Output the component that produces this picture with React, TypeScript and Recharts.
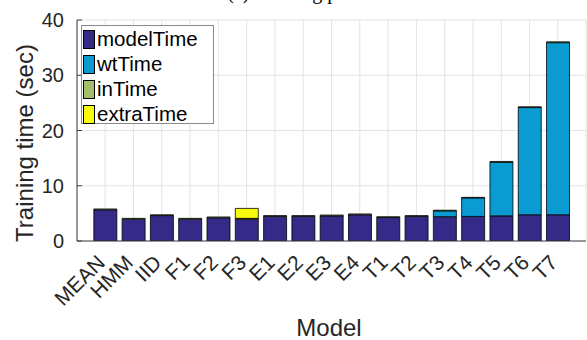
import React from 'react';
import { BarChart, Bar, XAxis, YAxis, CartesianGrid, Label } from 'recharts';

const categories = ['MEAN', 'HMM', 'IID', 'F1', 'F2', 'F3', 'E1', 'E2', 'E3', 'E4', 'T1', 'T2', 'T3', 'T4', 'T5', 'T6', 'T7'];
const modelTime = [5.65, 3.95, 4.6, 3.95, 4.2, 3.95, 4.45, 4.45, 4.55, 4.75, 4.25, 4.45, 4.4, 4.45, 4.55, 4.75, 4.75];
const wtTime = [0, 0, 0, 0, 0, 0, 0, 0, 0, 0, 0, 0, 1.05, 3.35, 9.7, 19.4, 31.15];
const inTime = [0.15, 0.15, 0.15, 0.15, 0.15, 0.15, 0.15, 0.15, 0.15, 0.15, 0.15, 0.15, 0.12, 0.1, 0.15, 0.15, 0.15];
const extraTime = [0, 0, 0, 0, 0, 1.8, 0, 0, 0, 0, 0, 0, 0, 0, 0, 0, 0];
const yTicks = [0, 10, 20, 30, 40];
const seriesNames = ['modelTime', 'wtTime', 'inTime', 'extraTime'];
const seriesColors = ['#352a87', '#0b9bd3', '#a5be6b', '#f9fb0e'];
const seriesValues = [modelTime, wtTime, inTime, extraTime];

const data = categories.map((name, i) => {
  const row: Record<string, string | number> = { name };
  seriesNames.forEach((s, k) => {
    row[s] = seriesValues[k][i];
  });
  return row;
});

const FONT = '"Liberation Sans", Arial, Helvetica, sans-serif';
const AX = '#404040';
const TXT = '#262626';

const XTick = (props: any) => {
  const { x, y, payload } = props;
  const ax = x + 1;
  const ay = y + 23;
  return (
    <text
      x={ax}
      y={ay}
      transform={`rotate(-45, ${ax}, ${ay})`}
      textAnchor="end"
      fontSize={21}
      fontFamily={FONT}
      fill={TXT}
    >
      {payload.value}
    </text>
  );
};

const Empty = () => <g />;

export default function App() {
  return (
    <div style={{ position: 'absolute', left: 0, top: 0, width: 587, height: 340, background: '#fff' }}>
      <svg width={587} height={20} style={{ position: 'absolute', left: 0, top: 0 }}>
        <text x={300} y={-1} textAnchor="middle" fontSize={20} fontFamily="'Liberation Serif', 'Times New Roman', serif" fill="#000">
          (c) Training phase
        </text>
      </svg>
      <div style={{ position: 'absolute', left: 0, top: 0 }}>
        <BarChart
          width={587}
          height={340}
          data={data}
          margin={{ top: 20, right: 1, bottom: 0, left: 0 }}
          barCategoryGap="10%"
        >
          <CartesianGrid stroke="#e3e3e3" strokeWidth={1} />
          <XAxis
            dataKey="name"
            interval={0}
            padding={{ left: 14, right: 14 }}
            height={99}
            tickLine={false}
            tickSize={0}
            tickMargin={0}
            axisLine={{ stroke: AX }}
            tick={<XTick />}
          >
            <Label
              content={() => (
                <text x={329} y={336} textAnchor="middle" fontSize={24} fontFamily={FONT} fill={TXT}>
                  Model
                </text>
              )}
            />
          </XAxis>
          <XAxis
            xAxisId="top"
            orientation="top"
            dataKey="name"
            interval={0}
            padding={{ left: 14, right: 14 }}
            height={0}
            tickSize={-5}
            tickLine={{ stroke: AX }}
            axisLine={{ stroke: AX }}
            tick={<Empty />}
          />
          <YAxis
            width={77}
            domain={[0, 40]}
            ticks={yTicks}
            allowDataOverflow
            tickSize={-5}
            tickMargin={18}
            tickLine={{ stroke: AX }}
            axisLine={{ stroke: AX }}
            tick={{ fontSize: 20, fontFamily: FONT, fill: TXT }}
          >
            <Label
              content={() => (
                <text
                  x={33}
                  y={143}
                  transform="rotate(-90, 33, 143)"
                  textAnchor="middle"
                  fontSize={24}
                  fontFamily={FONT}
                  fill={TXT}
                >
                  Training time (sec)
                </text>
              )}
            />
          </YAxis>
          <YAxis
            yAxisId="right"
            orientation="right"
            width={0}
            domain={[0, 40]}
            ticks={yTicks}
            allowDataOverflow
            tickSize={-5}
            tickLine={{ stroke: AX }}
            axisLine={{ stroke: AX }}
            tick={<Empty />}
          />
          {seriesNames.map((s, k) => (
            <Bar
              key={s}
              dataKey={s}
              stackId="a"
              fill={seriesColors[k]}
              stroke="#000"
              strokeWidth={0.8}
              isAnimationActive={false}
            />
          ))}
        </BarChart>
      </div>
      <div
        style={{
          position: 'absolute',
          left: 81,
          top: 25,
          width: 133,
          height: 99,
          border: '1px solid #8a8a8a',
          background: '#fff',
          boxSizing: 'border-box',
          fontFamily: FONT,
          fontSize: 20.5,
          color: '#000',
        }}
      >
        {seriesNames.map((s, k) => (
          <div key={s} style={{ position: 'absolute', left: 1, top: 3 + k * 25, height: 20, display: 'flex', alignItems: 'center', whiteSpace: 'nowrap' }}>
            <span
              style={{
                display: 'inline-block',
                width: 10,
                height: 17,
                background: seriesColors[k],
                border: '1px solid #000',
                marginRight: 2,
              }}
            />
            <span style={{ lineHeight: '20px' }}>{s}</span>
          </div>
        ))}
      </div>
    </div>
  );
}
